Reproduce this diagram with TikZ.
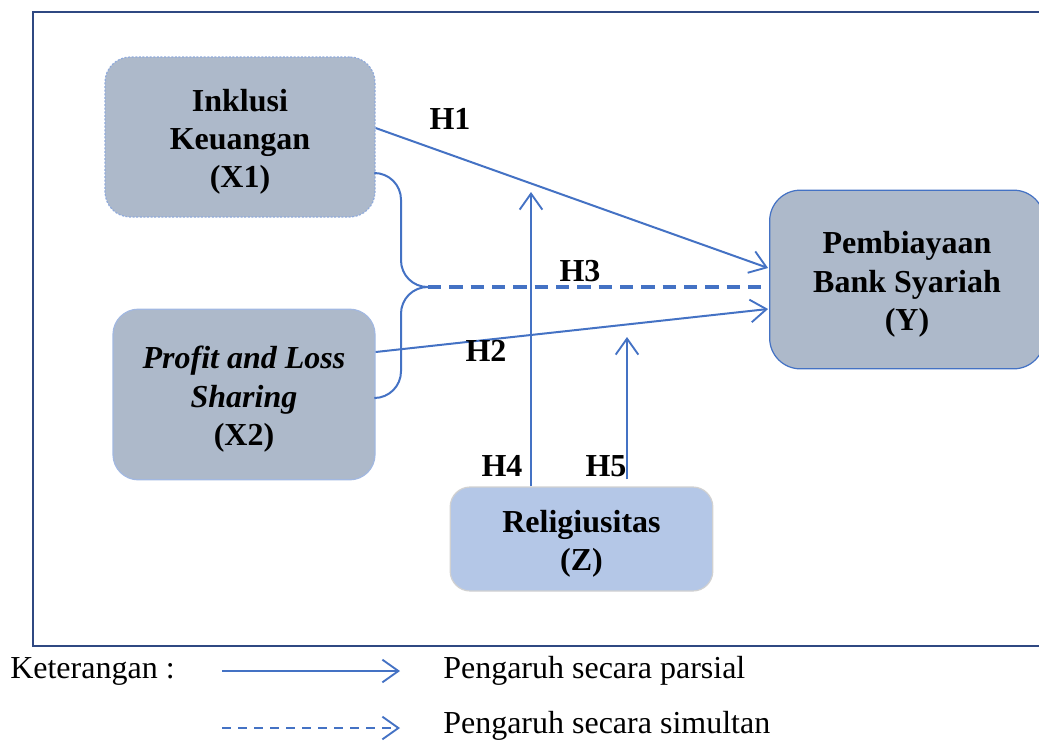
\documentclass[tikz,border=0pt]{standalone}
\usepackage{fontspec}
\setmainfont{Liberation Serif}
\usetikzlibrary{arrows.meta, calc}
\definecolor{lineBlue}{RGB}{68,114,196}
\definecolor{boxGray}{RGB}{173,185,202}
\definecolor{boxBlue}{RGB}{180,199,231}
\definecolor{frameBlue}{RGB}{47,72,130}
\newcommand{\topgap}{\rule{0pt}{24pt}} % pushes the box text a little down
\tikzset{
    >={Straight Barb[length=12pt, width=17pt, line width=1.4pt]}, % open arrow heads
    varBox/.style={rounded corners=19pt, align=center, fill=boxGray, line width=0.9pt,
        font=\fontsize{24}{28.8}\selectfont\bfseries}, % the boxes of the variables
    hypLabel/.style={font=\fontsize{24}{28.5}\selectfont\bfseries, inner sep=0pt}, % H1 ... H5
    pathLine/.style={->, draw=lineBlue, line width=1.5pt},
    legendText/.style={font=\fontsize{24}{28.5}\selectfont, anchor=west, inner sep=0pt},
}
\begin{document}
\begin{tikzpicture}[x=0.75pt, y=-0.75pt]
    \useasboundingbox (0,0) rectangle (1039,740);
    % frame
    \draw[frameBlue, line width=1.6pt] (33,12) rectangle (1080,646);

    % variables
    \node[varBox, draw=lineBlue!60, dash pattern=on 1.5pt off 1.2pt, minimum width=202.5pt, minimum height=120pt] (x1) at (240,137) {\topgap Inklusi\\Keuangan\\(X1)};
    \node[varBox, draw=lineBlue!50, minimum width=196.5pt, minimum height=128pt] (x2) at (244,394.5) {\topgap\textit{Profit and Loss}\\\textit{Sharing}\\(X2)};
    \node[varBox, draw=lineBlue, rounded corners=23pt, minimum width=206pt, minimum height=134pt] (y) at (907,279.5) {\topgap Pembiayaan\\Bank Syariah\\(Y)};
    \node[varBox, fill=boxBlue, draw=black!18, rounded corners=15pt, minimum width=197pt, minimum height=78pt] (z) at (581.5,539) {\topgap Religiusitas\\(Z)};

    % brace joining X1 and X2
    \coordinate (join) at (428,287);
    \coordinate (h4tip) at (531,192);
    \coordinate (h5tip) at (627,337);
    \draw[lineBlue, line width=1.5pt, rounded corners=20pt]
        ($(x1.east)+(0,36)$) -| (401,287) -- (join);
    \draw[lineBlue, line width=1.5pt, rounded corners=20pt]
        (join) -| (401,398) -- ($(x2.east)+(0,3.5)$);

    % paths
    \draw[pathLine] ($(x1.east)+(0,-9)$) -- ($(y.west)+(-1,-11.5)$);
    \draw[pathLine] ($(x2.east)+(0,-42.5)$) -- ($(y.west)+(-1,29.5)$);
    \draw[pathLine, line width=2.3pt, dash pattern=on 10pt off 6pt, -] (join) -- ($(y.west)+(0,7.5)$);
    \draw[pathLine] ($(z.north)+(-50.5,0)$) -- (h4tip);
    \draw[pathLine] ($(z.north)+(45.5,-7)$) -- (h5tip);

    % labels
    \node[hypLabel] (lh1) at (450,119) {H1};
    \node[hypLabel] (lh2) at (486,351) {H2};
    \node[hypLabel] (lh3) at (580,271) {H3};
    \node[hypLabel] (lh4) at (502,466) {H4};
    \node[hypLabel] (lh5) at (606,466) {H5};

    % legend
    \node[legendText] (ket) at (10,671) {Keterangan :};
    \coordinate (solidA) at (222,671);
    \coordinate (solidB) at (400,671);
    \coordinate (dashA) at (222,728);
    \coordinate (dashB) at (400,728);
    \draw[pathLine] (solidA) -- (solidB);
    \draw[pathLine, line width=1.8pt, dash pattern=on 7pt off 5pt] (dashA) -- (dashB);
    \node[legendText] (parsial) at (443,671) {Pengaruh secara parsial};
    \node[legendText] (simultan) at (443,726) {Pengaruh secara simultan};
\end{tikzpicture}
\end{document}
